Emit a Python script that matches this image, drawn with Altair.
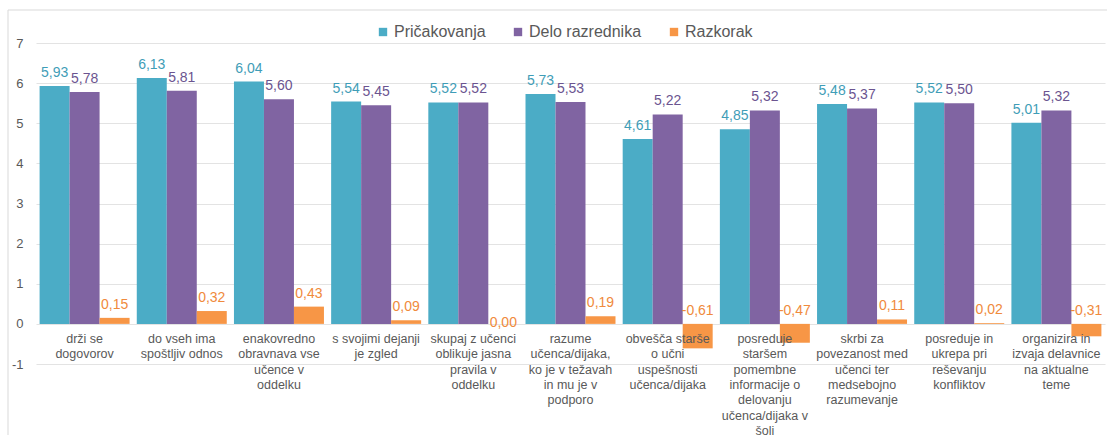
import altair as alt
import pandas as pd

categories = [
    "drži se\ndogovorov",
    "do vseh ima\nspoštljiv odnos",
    "enakovredno\nobravnava vse\nučence v\noddelku",
    "s svojimi dejanji\nje zgled",
    "skupaj z učenci\noblikuje jasna\npravila v\noddelku",
    "razume\nučenca/dijaka,\nko je v težavah\nin mu je v\npodporo",
    "obvešča starše\no učni\nuspešnosti\nučenca/dijaka",
    "posreduje\nstaršem\npomembne\ninformacije o\ndelovanju\nučenca/dijaka v\nšoli",
    "skrbi za\npovezanost med\nučenci ter\nmedsebojno\nrazumevanje",
    "posreduje in\nukrepa pri\nreševanju\nkonfliktov",
    "organizira in\nizvaja delavnice\nna aktualne\nteme",
]
series_names = ["Pričakovanja", "Delo razrednika", "Razkorak"]
pricakovanja = [5.93, 6.13, 6.04, 5.54, 5.52, 5.73, 4.61, 4.85, 5.48, 5.52, 5.01]
delo_razrednika = [5.78, 5.81, 5.60, 5.45, 5.52, 5.53, 5.22, 5.32, 5.37, 5.50, 5.32]
razkorak = [0.15, 0.32, 0.43, 0.09, 0.00, 0.19, -0.61, -0.47, 0.11, 0.02, -0.31]
y_ticks = [-1, 0, 1, 2, 3, 4, 5, 6, 7]

bar_colors = ["#4BACC6", "#8064A2", "#F79646"]
text_colors = ["#3F9DB7", "#6B5490", "#F08A3C"]
FONT = "Liberation Sans"
GREY = "#595959"

rows = []
for i, c in enumerate(categories):
    for s, vals in zip(series_names, [pricakovanja, delo_razrednika, razkorak]):
        v = vals[i]
        rows.append({"cat": c, "series": s, "value": v,
                     "label": f"{v:.2f}".replace(".", ",")})
df = pd.DataFrame(rows)
cat_df = pd.DataFrame({"cat": categories})

x_enc = alt.X("cat:N", sort=categories, axis=None,
              scale=alt.Scale(paddingInner=0.074, paddingOuter=0.037))
xoff_enc = alt.XOffset("series:N", sort=series_names,
                       scale=alt.Scale(paddingInner=0, paddingOuter=0))

border = alt.Chart(alt.Data(values=[{"a": 1}])).mark_rect(
    fillOpacity=0, stroke="#D9D9D9", strokeWidth=1
).encode(x=alt.value(-28), x2=alt.value(1200), y=alt.value(-33), y2=alt.value(500))

bars = alt.Chart(df).mark_bar().encode(
    x=x_enc,
    xOffset=xoff_enc,
    y=alt.Y("value:Q", title=None,
            scale=alt.Scale(domain=[-1, 7], nice=False, zero=False),
            axis=alt.Axis(values=y_ticks, labelExpr="datum.value + ''",
                          grid=True, gridColor="#E3E3E3", domain=False, ticks=False,
                          labelFont=FONT, labelFontSize=13, labelColor=GREY,
                          labelPadding=13)),
    color=alt.Color("series:N", sort=series_names,
                    scale=alt.Scale(domain=series_names, range=bar_colors),
                    legend=alt.Legend(title=None, orient="none", legendX=339, legendY=-19,
                                      direction="horizontal", symbolType="square",
                                      symbolSize=70, symbolStrokeWidth=0,
                                      labelFont=FONT, labelFontSize=16, labelColor=GREY,
                                      labelOffset=3, columnPadding=24)),
)

value_labels = alt.Chart(df).transform_calculate(
    ly="datum.value > 0 ? datum.value : (datum.value < 0 ? 0 : -0.3)"
).mark_text(baseline="bottom", dy=-6, font=FONT, fontSize=14).encode(
    x=x_enc,
    xOffset=xoff_enc,
    y=alt.Y("ly:Q", title=None),
    text="label:N",
    color=alt.Color("series:N", sort=series_names,
                    scale=alt.Scale(domain=series_names, range=text_colors),
                    legend=None),
)

cat_labels = alt.Chart(cat_df).transform_calculate(zero="0").mark_text(
    baseline="top", dy=9, font=FONT, fontSize=12.5, lineBreak="\n",
    lineHeight=15.4, color=GREY
).encode(
    x=x_enc,
    y=alt.Y("zero:Q", title=None),
    text="cat:N",
)

chart = alt.layer(border, bars, value_labels, cat_labels).resolve_scale(
    color="independent"
).properties(
    width=1069, height=321,
    padding={"left": 36, "top": 43, "right": 2, "bottom": 71},
    autosize=alt.AutoSizeParams(type="none"),
).configure_view(strokeWidth=0)

chart.save("out.html", embed_options={"renderer": "svg", "actions": False})
